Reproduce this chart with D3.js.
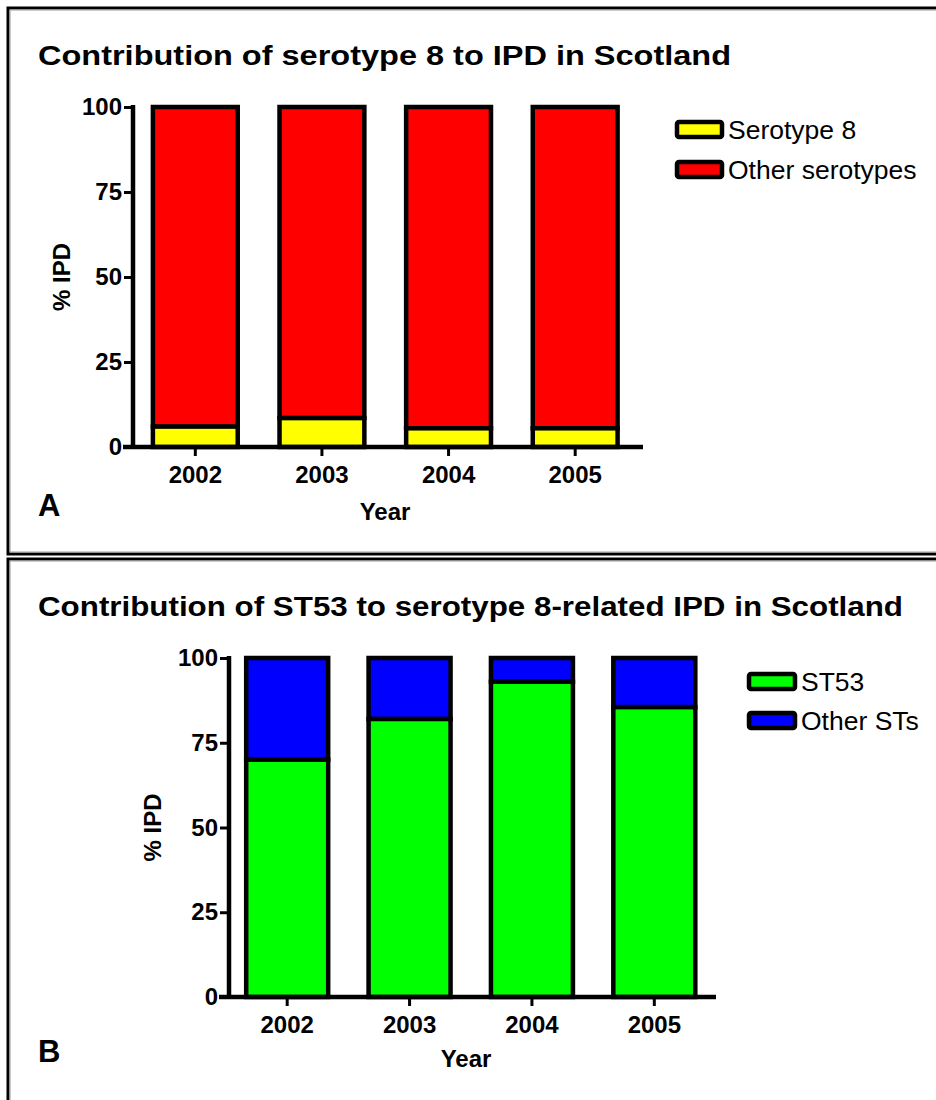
<!DOCTYPE html>
<html>
<head>
<meta charset="utf-8">
<script src="https://cdn.jsdelivr.net/npm/d3@7"></script>
<style>
  body { margin: 0; background: #fff; }
  svg text { font-family: "Liberation Sans", Arial, sans-serif; fill: #000; }
</style>
</head>
<body>
<svg id="chart" width="936" height="1100"></svg>
<script>
// Years shown on both panels
const years = ["2002", "2003", "2004", "2005"];
// Panel A: share of IPD due to serotype 8 (%), remainder is other serotypes
const serotype8 = [6, 8.5, 5.5, 5.5];
// Panel B: share of serotype 8 IPD due to ST53 (%), remainder is other STs
const st53 = [70, 82, 93, 85.5];
const yTicks = [0, 25, 50, 75, 100];

const svg = d3.select("#chart");

// Panel frames
svg.append("rect").attr("x", 8).attr("y", 8).attr("width", 960).attr("height", 546)
  .attr("fill", "none").attr("stroke", "#000").attr("stroke-width", 3);
svg.append("rect").attr("x", 10).attr("y", 10).attr("width", 960).attr("height", 542)
  .attr("fill", "none").attr("stroke", "#999").attr("stroke-width", 1);
svg.append("rect").attr("x", 8).attr("y", 559).attr("width", 960).attr("height", 600)
  .attr("fill", "none").attr("stroke", "#000").attr("stroke-width", 3);
svg.append("rect").attr("x", 10).attr("y", 561).attr("width", 960).attr("height", 600)
  .attr("fill", "none").attr("stroke", "#999").attr("stroke-width", 1);

function panel(cfg) {
  const g = svg.append("g");
  const y = d3.scaleLinear().domain([0, 100]).range([cfg.y0, cfg.y1]);
  const x = d3.scaleBand().domain(years).range([cfg.xa, cfg.xb])
    .paddingInner(0.33).paddingOuter(0.165);

  // Title
  g.append("text").attr("x", 38).attr("y", cfg.titleY)
    .attr("font-size", 27).attr("font-weight", "bold")
    .attr("textLength", cfg.titleLen).attr("lengthAdjust", "spacingAndGlyphs")
    .text(cfg.title);

  // Stacked bars
  const stacks = years.map((yr, i) => ({ yr, lo: cfg.values[i], hi: 100 }));
  stacks.forEach(s => {
    g.append("rect").attr("x", x(s.yr)).attr("width", x.bandwidth())
      .attr("y", y(s.hi)).attr("height", y(s.lo) - y(s.hi))
      .attr("fill", cfg.colors[1]).attr("stroke", "#000").attr("stroke-width", 4.5);
    g.append("rect").attr("x", x(s.yr)).attr("width", x.bandwidth())
      .attr("y", y(s.lo)).attr("height", y(0) - y(s.lo))
      .attr("fill", cfg.colors[0]).attr("stroke", "#000").attr("stroke-width", 4.5);
  });

  // Y axis
  const yAxis = g.append("g").attr("transform", `translate(${cfg.axisX},0)`)
    .call(d3.axisLeft(y).tickValues(yTicks).tickSize(9).tickPadding(2));
  yAxis.select(".domain").attr("stroke-width", 4.5).attr("d", `M0,${cfg.y1 - 2}V${cfg.y0}`);
  yAxis.selectAll(".tick line").attr("stroke-width", 3);
  yAxis.selectAll(".tick text").attr("font-size", 24).attr("font-weight", "bold")
    .attr("font-family", "Liberation Sans, Arial, sans-serif");

  // X axis
  const xAxis = g.append("g").attr("transform", `translate(0,${cfg.y0})`)
    .call(d3.axisBottom(x).tickSize(9).tickPadding(10));
  xAxis.select(".domain").attr("stroke-width", 4.5).attr("d", `M${cfg.axisX - 10},0H${cfg.xEnd}`);
  xAxis.selectAll(".tick line").attr("stroke-width", 3);
  xAxis.selectAll(".tick text").attr("font-size", 24).attr("font-weight", "bold")
    .attr("font-family", "Liberation Sans, Arial, sans-serif");

  // Axis titles
  g.append("text").attr("x", cfg.yearX).attr("y", cfg.yearY).attr("text-anchor", "middle")
    .attr("font-size", 24).attr("font-weight", "bold").text("Year");
  g.append("text").attr("transform", `translate(${cfg.ipdX},${(cfg.y0 + cfg.y1) / 2}) rotate(-90)`)
    .attr("text-anchor", "middle").attr("font-size", 24).attr("font-weight", "bold").text("% IPD");

  // Panel letter
  g.append("text").attr("x", 38).attr("y", cfg.letterY)
    .attr("font-size", 31).attr("font-weight", "bold").text(cfg.letter);

  // Legend
  cfg.legend.forEach((lab, i) => {
    const ly = cfg.legY + i * cfg.legGap;
    g.append("rect").attr("x", cfg.legX).attr("y", ly).attr("width", cfg.legW).attr("height", 15)
      .attr("rx", 2).attr("fill", cfg.colors[i]).attr("stroke", "#000").attr("stroke-width", 4.5);
    g.append("text").attr("x", cfg.legX + cfg.legW + 6).attr("y", ly + 17)
      .attr("font-size", 26.5).text(lab);
  });
}

panel({
  title: "Contribution of serotype 8 to IPD in Scotland", titleY: 65, titleLen: 693,
  values: serotype8, colors: ["#ffff00", "#ff0000"],
  y0: 447, y1: 107, xa: 132, xb: 638.5, axisX: 133, xEnd: 643,
  yearX: 385, yearY: 520, ipdX: 70, letter: "A", letterY: 516,
  legend: ["Serotype 8", "Other serotypes"], legX: 677, legY: 122, legGap: 40, legW: 45
});

panel({
  title: "Contribution of ST53 to serotype 8-related IPD in Scotland", titleY: 616, titleLen: 865,
  values: st53, colors: ["#00ff00", "#0000ff"],
  y0: 997, y1: 658, xa: 226, xb: 715.5, axisX: 229, xEnd: 716,
  yearX: 466, yearY: 1067, ipdX: 161, letter: "B", letterY: 1062,
  legend: ["ST53", "Other STs"], legX: 749, legY: 674, legGap: 39, legW: 46
});
</script>
</body>
</html>
